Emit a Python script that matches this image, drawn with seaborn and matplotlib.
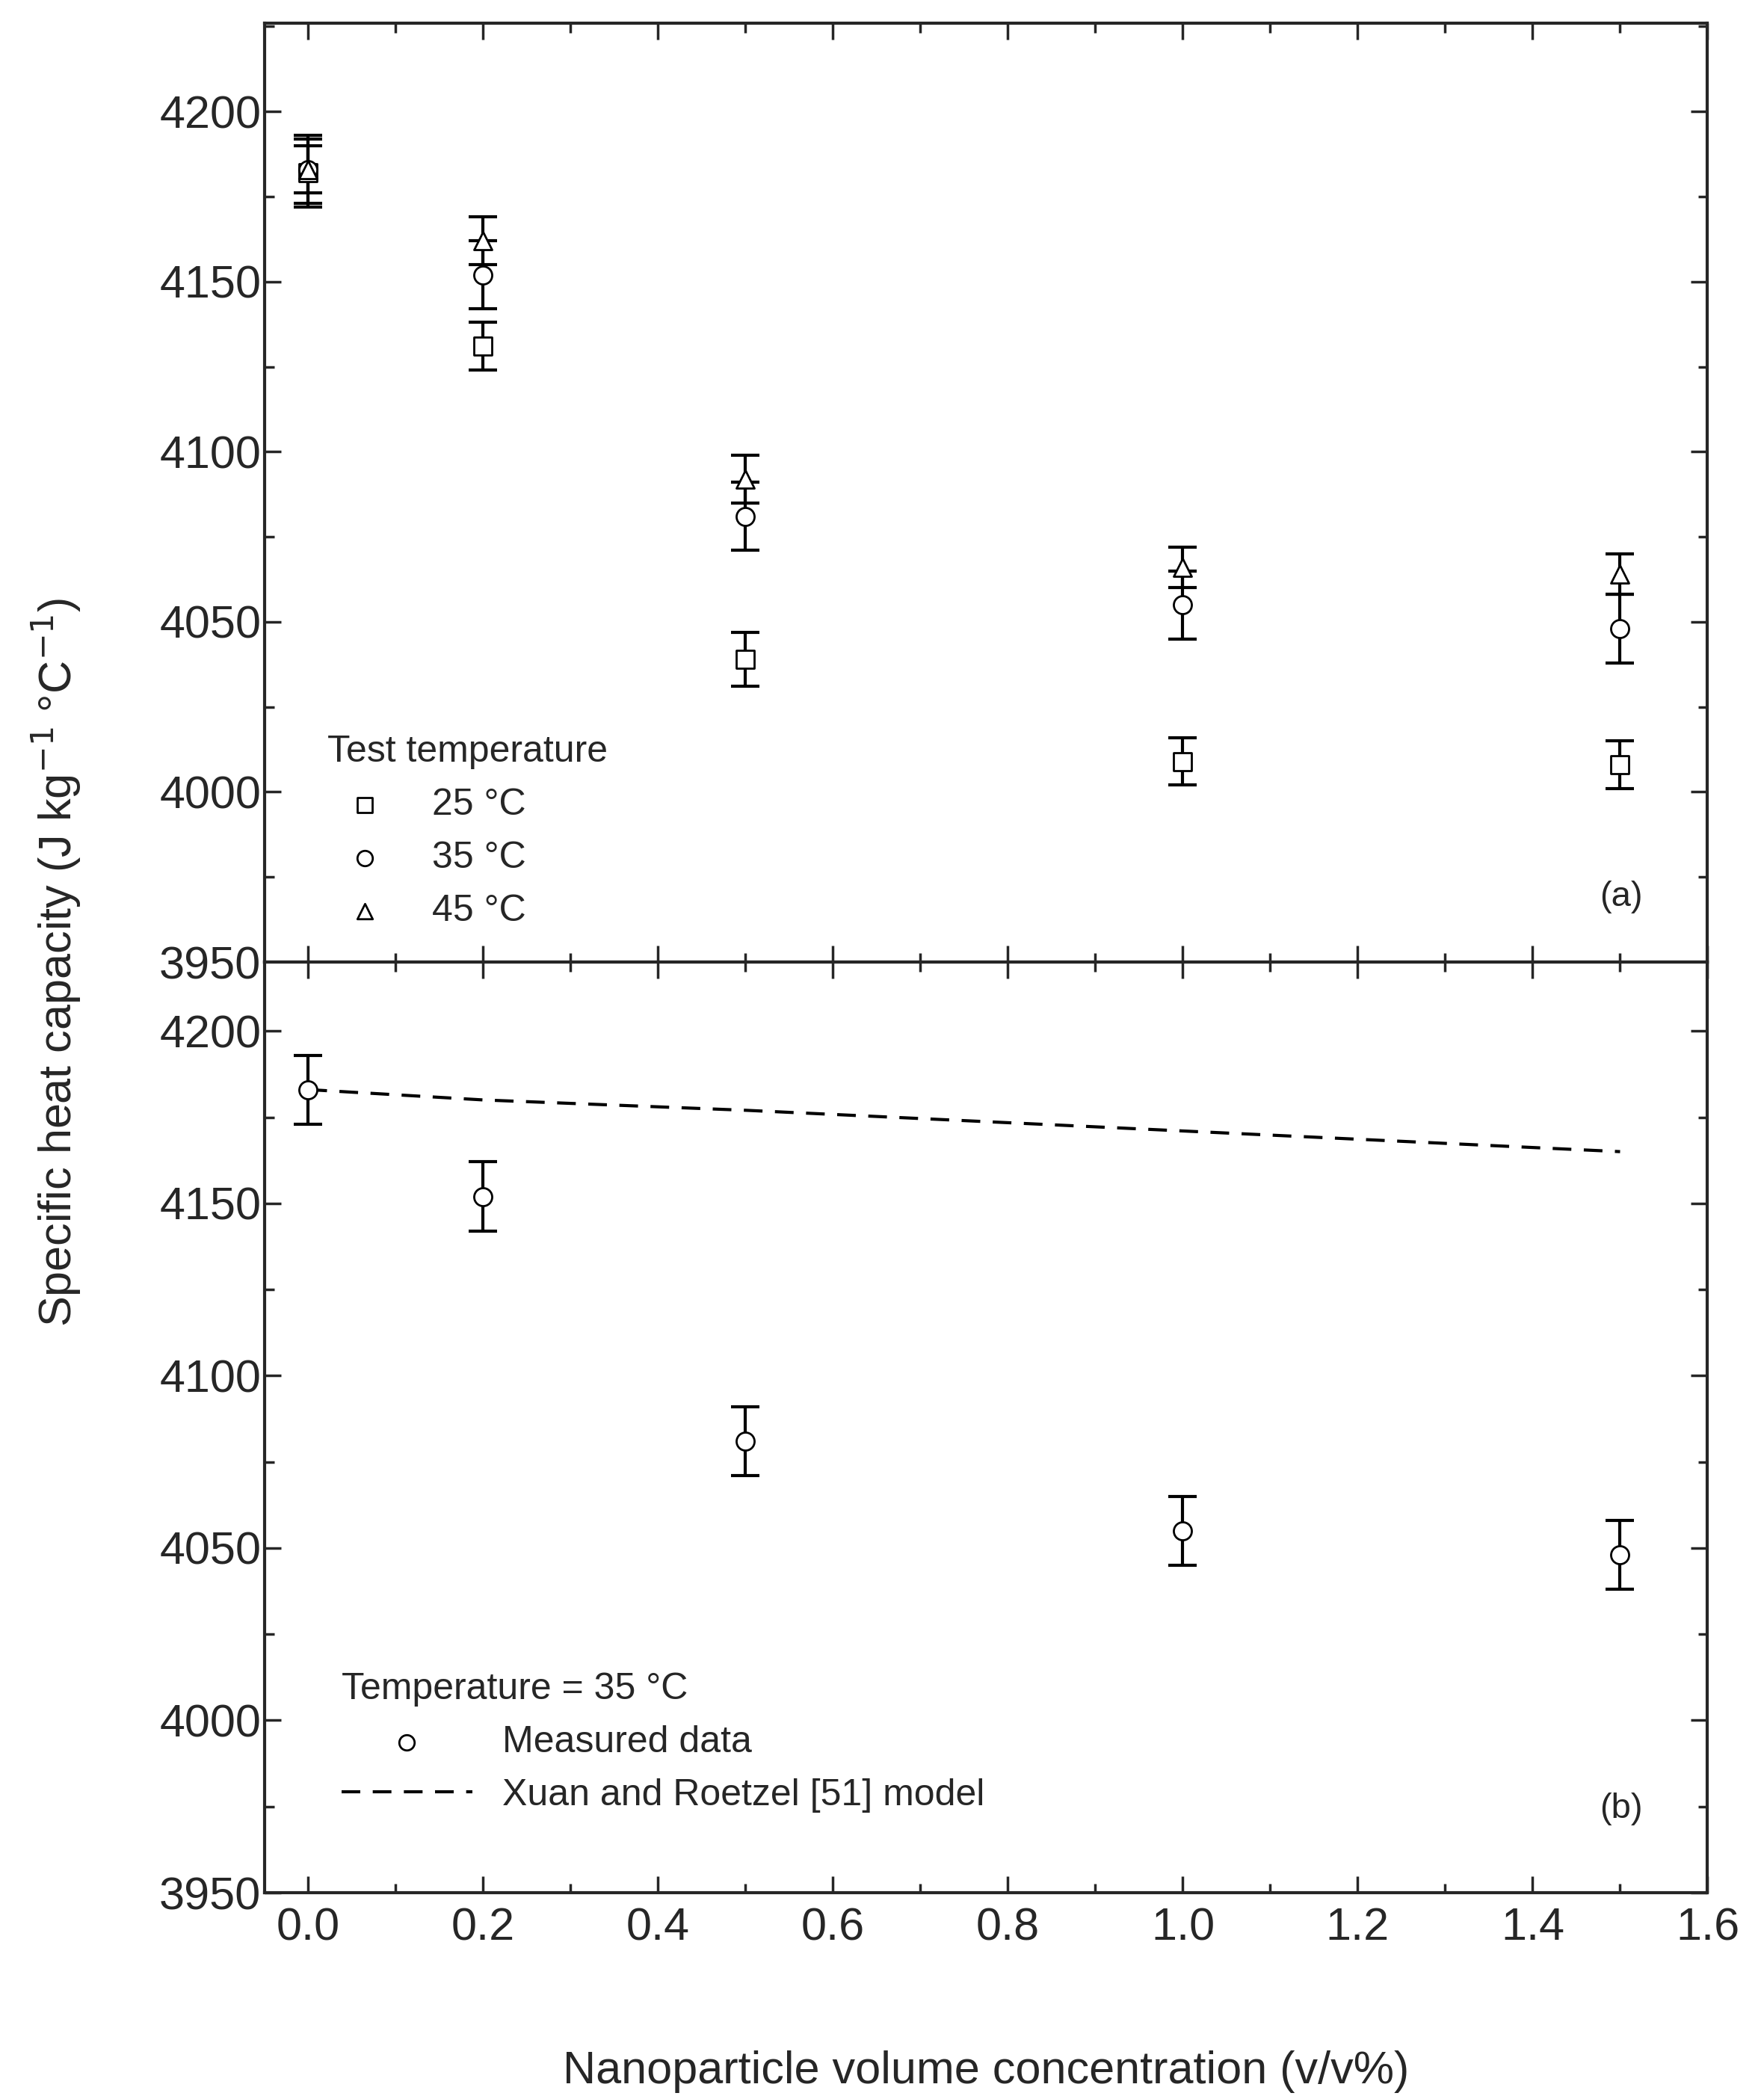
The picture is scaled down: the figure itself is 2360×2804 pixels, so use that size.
import matplotlib
matplotlib.use("Agg")
import matplotlib.pyplot as plt
import seaborn as sns
import pandas as pd
from matplotlib.ticker import MultipleLocator

sns.set_style("ticks")
plt.rcParams['font.family'] = ['Liberation Sans', 'DejaVu Sans']

conc = [0.0, 0.2, 0.5, 1.0, 1.5]
cp25 = [4182, 4131, 4039, 4009, 4008]
err25 = [10, 7, 8, 7, 7]
cp35 = [4183, 4152, 4081, 4055, 4048]
err35 = [10, 10, 10, 10, 10]
cp45 = [4183, 4162, 4092, 4066, 4064]
err45 = [7, 7, 7, 6, 6]
model_x = [0.0, 0.2, 0.5, 1.0, 1.5]
model_y = [4183, 4180, 4177, 4171, 4165]

fig = plt.figure(figsize=(23.6, 28.04), dpi=100)
ax1 = fig.add_axes([0.150, 0.541, 0.818, 0.448])
ax2 = fig.add_axes([0.150, 0.097, 0.818, 0.444])

mk = dict(s=300, facecolor='white', edgecolor='black', linewidth=2, zorder=3)
eb = dict(fmt='none', ecolor='black', elinewidth=3, capsize=14, capthick=3, zorder=2)

for y, e, m, lab in [(cp25, err25, 's', '25 °C'), (cp35, err35, 'o', '35 °C'), (cp45, err45, '^', '45 °C')]:
    ax1.errorbar(conc, y, yerr=e, **eb)
    sns.scatterplot(x=conc, y=y, marker=m, ax=ax1, label=lab, **mk)

ax2.errorbar(conc, cp35, yerr=err35, **eb)
sns.scatterplot(x=conc, y=cp35, marker='o', ax=ax2, label='Measured data', **mk)
sns.lineplot(x=model_x, y=model_y, ax=ax2, color='black', linestyle=(0, (6, 4)), linewidth=3,
             label='Xuan and Roetzel [51] model')

ax1.set_ylim(3950, 4226)
ax2.set_ylim(3950, 4220)
for ax in (ax1, ax2):
    ax.set_xlim(-0.05, 1.6)
    ax.xaxis.set_major_locator(MultipleLocator(0.2))
    ax.xaxis.set_minor_locator(MultipleLocator(0.1))
    ax.yaxis.set_major_locator(MultipleLocator(50))
    ax.yaxis.set_minor_locator(MultipleLocator(25))
    ax.tick_params(which='both', direction='in', top=True, right=True, width=2.5, labelsize=44)
    ax.tick_params(which='major', length=16)
    ax.tick_params(which='minor', length=9)
    for s in ax.spines.values():
        s.set_linewidth(3)
        s.set_visible(True)
    ax.set_xlabel('')
    ax.set_ylabel('')
ax1.tick_params(labelbottom=False)
ax2.xaxis.set_major_formatter(matplotlib.ticker.FormatStrFormatter('%.1f'))
ax2.tick_params(axis='x', pad=14)

leg1 = ax1.legend(title='Test temperature', loc='lower left', bbox_to_anchor=(0.02, 0.0),
                  frameon=False, fontsize=36, title_fontsize=36, markerscale=0.85, handletextpad=0.8)
leg1._legend_box.align = 'left'
leg2 = ax2.legend(title='Temperature = 35 °C', loc='lower left', bbox_to_anchor=(0.03, 0.05),
                  frameon=False, fontsize=36, title_fontsize=36, markerscale=0.85, handlelength=3.5)
leg2._legend_box.align = 'left'

ax1.text(0.955, 0.06, '(a)', transform=ax1.transAxes, fontsize=34, ha='right')
ax2.text(0.955, 0.08, '(b)', transform=ax2.transAxes, fontsize=34, ha='right')

fig.text(0.032, 0.541, 'Specific heat capacity (J kg$^{-1}$ °C$^{-1}$)', rotation=90,
         va='center', ha='center', fontsize=44)
fig.text(0.559, 0.006, 'Nanoparticle volume concentration (v/v%)', ha='center', fontsize=44)

fig.savefig('out.png', dpi=100)
